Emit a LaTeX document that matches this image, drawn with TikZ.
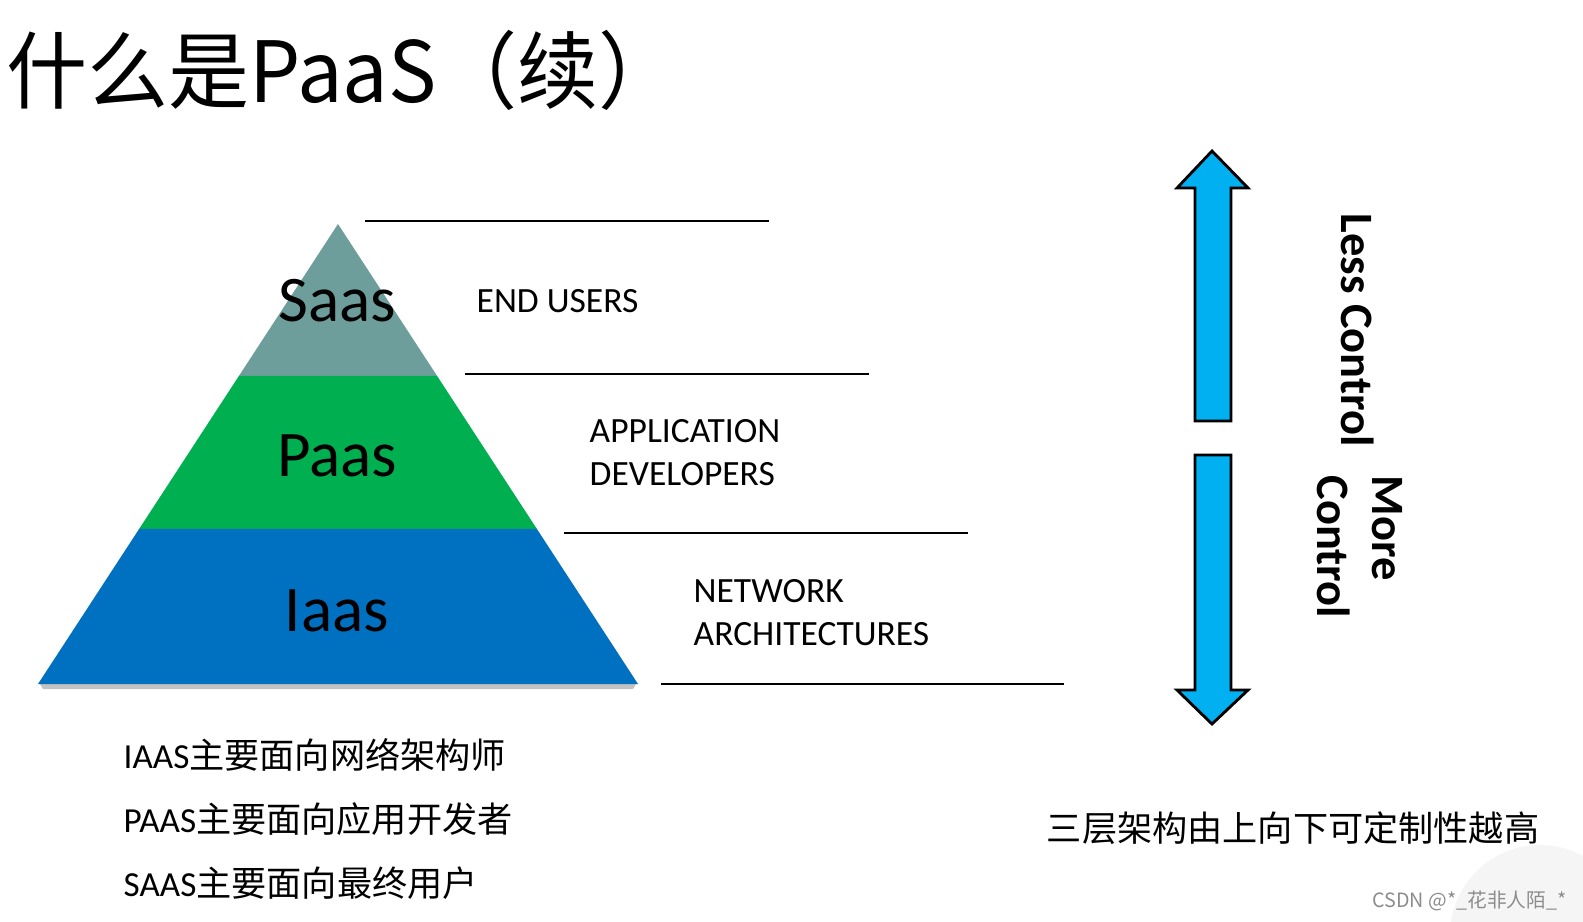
\documentclass[tikz,border=0pt]{standalone}
\usepackage{fontspec}
\setmainfont{Carlito}
\newfontfamily\cjk{Noto Sans CJK SC}
\usepackage{tikz}
\usetikzlibrary{calc,positioning}
\definecolor{saasgray}{HTML}{6D9E9B}
\definecolor{paasgreen}{HTML}{00B050}
\definecolor{iaasblue}{HTML}{0070C0}
\definecolor{arrowcyan}{HTML}{00B0F0}
\tikzset{
  tier/.style={font=\fontsize{18.5}{20}\selectfont,inner sep=0pt},
  role/.style={font=\fontsize{10.1}{12.2}\selectfont,align=left,anchor=west,inner sep=0pt},
  layerline/.style={line width=0.7pt},
  ctrl/.style={font=\fontsize{13.2}{15.6}\selectfont\bfseries,rotate=-90,inner sep=0pt},
  note/.style={font=\fontsize{10}{12}\selectfont,anchor=west,inner sep=0pt},
  bigarrow/.style={fill=arrowcyan,draw=black,line width=0.8pt,line join=miter}
}

\begin{document}
\begin{tikzpicture}[x=0.01cm,y=-0.01cm]
\useasboundingbox (0,0) rectangle (1583,921);
% faint corner mark
\begin{scope}
\clip (0,0) rectangle (1583,921);
\fill[black!4] (1540,935) circle (90);
\end{scope}
\node[anchor=west,inner sep=0pt,font=\cjk\fontsize{24}{26}\selectfont,xscale=0.96,transform shape] (title) at (6,70) {什么是PaaS（续）};
% pyramid
\coordinate (apex) at (338,224);
\coordinate (bl) at (38,684);
\coordinate (br) at (638,684);
\coordinate (l1) at ($(apex)!0.3304!(bl)$);
\coordinate (r1) at ($(apex)!0.3304!(br)$);
\coordinate (l2) at ($(apex)!0.663!(bl)$);
\coordinate (r2) at ($(apex)!0.663!(br)$);
\fill[black!40,opacity=0.6] (40,684) -- (636,684) -- (633,689) -- (43,689) -- cycle;
\fill[saasgray] (apex) -- (l1) -- (r1) -- cycle;
\fill[paasgreen] (l1) -- (l2) -- (r2) -- (r1) -- cycle;
\fill[iaasblue] (l2) -- (bl) -- (br) -- (r2) -- cycle;
\node[tier] (saas) at (337,301) {Saas};
\node[tier] (paas) at (337,456) {Paas};
\node[tier] (iaas) at (337,611) {Iaas};
% separators and roles
\draw[layerline] (365,221) -- (769,221);
\draw[layerline] (465,374) -- (869,374);
\draw[layerline] (564,533) -- (968,533);
\draw[layerline] (661,684) -- (1064,684);
\node[role] (users) at (476,301) {END USERS};
\node[role] (devs) at (589,453) {APPLICATION\\DEVELOPERS};
\node[role] (net) at (693,613) {NETWORK\\ARCHITECTURES};
% control arrows
\draw[bigarrow] (1212,151) -- (1248,188) -- (1231,188) -- (1231,421) -- (1195,421) -- (1195,188) -- (1177,188) -- cycle;
\draw[bigarrow] (1212,724) -- (1248,690) -- (1231,690) -- (1231,455) -- (1195,455) -- (1195,690) -- (1177,690) -- cycle;
\node[ctrl] (less) at (1358,330) {Less Control};
\node[ctrl,anchor=west,align=left] (more) at (1360,475) {More\\Control};
% notes
\node[note] (inote) at (123,755) {IAAS{\cjk 主要面向网络架构师}};
\node[note] (pnote) at (123,819) {PAAS{\cjk 主要面向应用开发者}};
\node[note] (snote) at (123,883) {SAAS{\cjk 主要面向最终用户}};
\node[font=\cjk\fontsize{10}{12}\selectfont,inner sep=0pt] (summary) at (1293,828) {三层架构由上向下可定制性越高};
\node[font=\cjk\fontsize{5.6}{7}\selectfont,text=black!45,anchor=east,inner sep=0pt] (mark) at (1567,901) {CSDN @*\_花非人陌\_*};
\end{tikzpicture}
\end{document}
